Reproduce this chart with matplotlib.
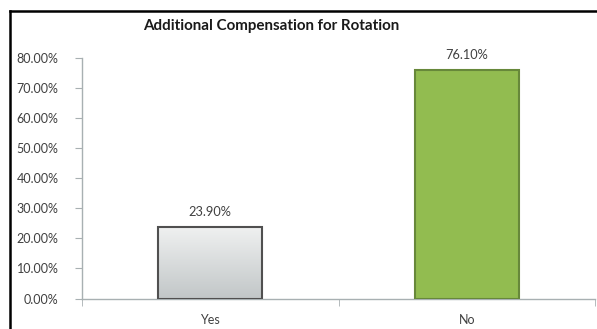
import matplotlib
matplotlib.use("Agg")
import matplotlib.pyplot as plt
import numpy as np
from matplotlib.lines import Line2D
from matplotlib.colors import LinearSegmentedColormap

categories = ["Yes", "No"]
values = [23.90, 76.10]
yticks = [0, 10, 20, 30, 40, 50, 60, 70, 80]
ytick_labels = ["0.00%", "10.00%", "20.00%", "30.00%", "40.00%", "50.00%", "60.00%", "70.00%", "80.00%"]
title = "Additional Compensation for Rotation"

plt.rcParams['font.family'] = ['Lato', 'DejaVu Sans']

W, H = 597, 329
fig = plt.figure(figsize=(W / 100, H / 100), dpi=100)
ax = fig.add_axes([82 / W, 1 - 298.5 / H, (595 - 82) / W, (298.5 - 58) / H])

x = np.arange(len(categories))
bars = ax.bar(x, values, width=0.405, color=["#dfe1e2", "#92bc50"],
              edgecolor=["#505050", "#67883a"], linewidth=1.5, zorder=3)

# gradient on the first bar
b0 = bars[0]
grad = np.linspace(0, 1, 256).reshape(-1, 1)
cmap = LinearSegmentedColormap.from_list("g", ["#f0f1f1", "#c2c7c8"])
im = ax.imshow(grad, cmap=cmap, aspect="auto", origin="upper",
               extent=[b0.get_x(), b0.get_x() + b0.get_width(), 0, b0.get_height()],
               zorder=2)
im.set_clip_path(b0)
b0.set_facecolor("none")

for xi, v in zip(x, values):
    ax.annotate(f"{v:.2f}%", (xi, v), xytext=(0, 6), textcoords="offset points",
                ha="center", va="bottom", fontsize=9.2, color="#404040")

ax.set_xlim(-0.5, 1.5)
ax.set_ylim(0, 80)
ax.set_yticks(yticks)
ax.set_yticklabels(ytick_labels, fontsize=9, color="#404040")
ax.set_xticks(x)
ax.set_xticklabels(categories, fontsize=9, color="#404040")
ax.tick_params(axis="x", length=0, pad=11)
ax.tick_params(axis="y", length=5, color="#a8b0b2", pad=12, direction="out")
ax.set_xticks([-0.5, 0.5, 1.5], minor=True)
ax.tick_params(axis="x", which="minor", length=5, color="#a8b0b2", direction="out")

for s in ["top", "right"]:
    ax.spines[s].set_visible(False)
for s in ["left", "bottom"]:
    ax.spines[s].set_color("#a8b0b2")
    ax.spines[s].set_linewidth(1.0)

fig.text(271 / W, 1 - 26 / H, title, ha="center", va="center",
         fontsize=10.9, fontweight="bold", color="#1a1a1a")

# outer frame lines (top and left)
fig.add_artist(Line2D([10 / W, 1], [1 - 11 / H, 1 - 11 / H], color="black", linewidth=1.8,
                      transform=fig.transFigure))
fig.add_artist(Line2D([10 / W, 10 / W], [0, 1 - 11 / H], color="black", linewidth=1.8,
                      transform=fig.transFigure))

fig.savefig("out.png", dpi=100)
